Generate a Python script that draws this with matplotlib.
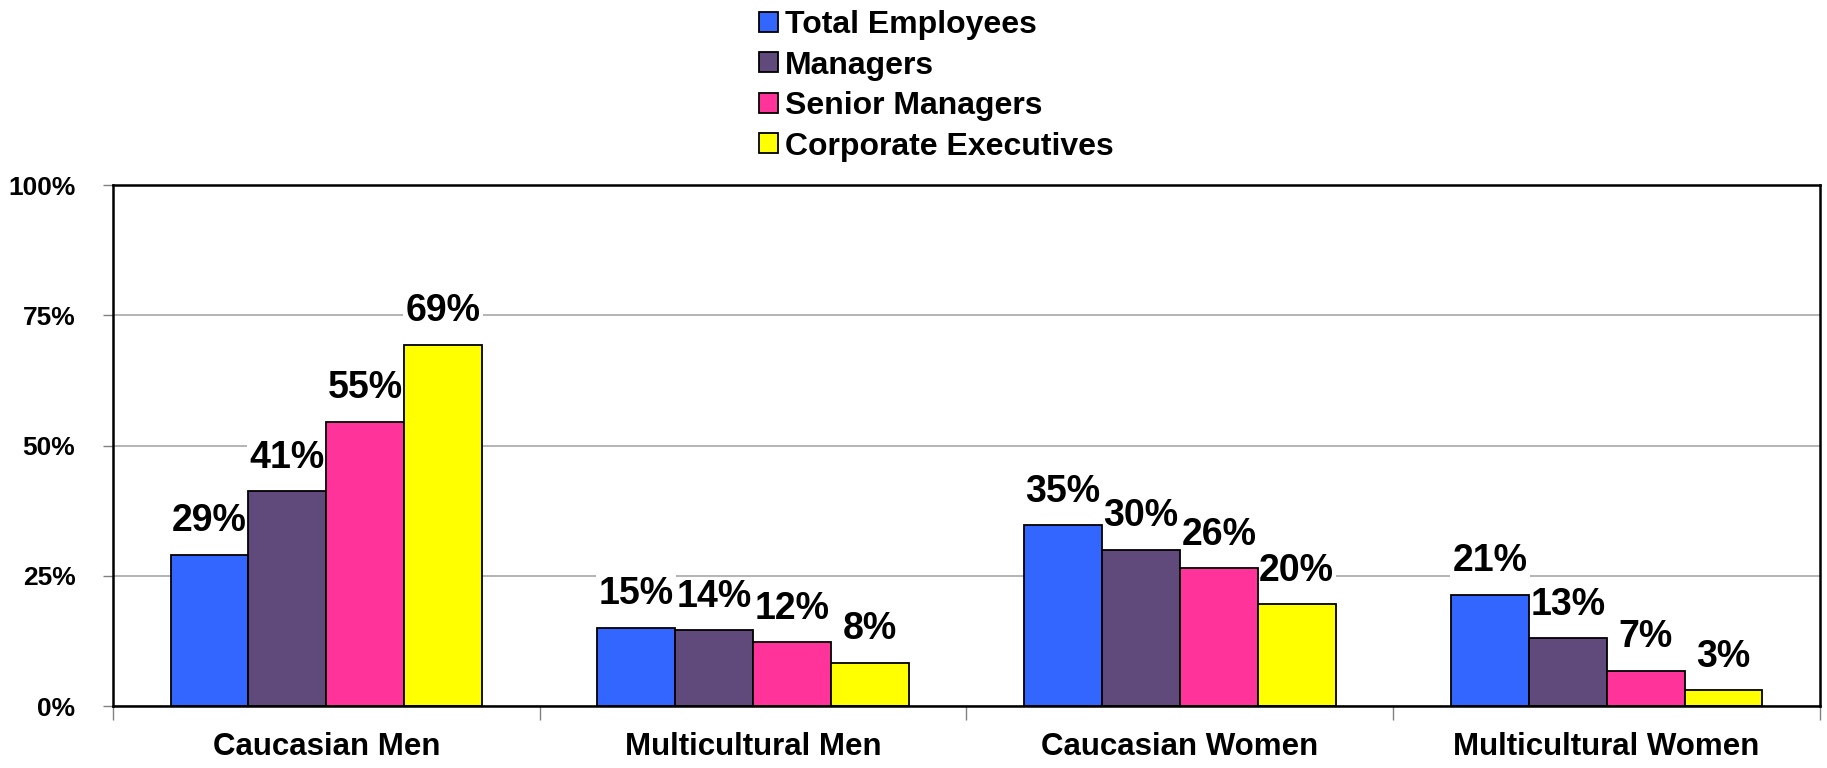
import numpy as np
import matplotlib
matplotlib.use("Agg")
import matplotlib.pyplot as plt
from matplotlib.ticker import FixedLocator

plt.rcParams['font.family'] = ['Liberation Sans', 'DejaVu Sans']
plt.rcParams['font.weight'] = 'bold'

# data (percent)
categories = ["Caucasian Men", "Multicultural Men", "Caucasian Women", "Multicultural Women"]
series_names = ["Total Employees", "Managers", "Senior Managers", "Corporate Executives"]
total_employees = [29.0, 15.0, 34.7, 21.4]
managers = [41.2, 14.5, 30.0, 13.0]
senior_managers = [54.6, 12.2, 26.4, 6.8]
corporate_execs = [69.3, 8.3, 19.5, 3.0]
yticks = [0, 25, 50, 75, 100]

colors = ["#3366FF", "#604A7B", "#FF3399", "#FFFF00"]

fig = plt.figure(figsize=(18.27, 7.68), dpi=100)
ax = fig.add_axes([0.0618, 0.0807, 0.9962 - 0.0618, 0.759 - 0.0807])
ax.set_axisbelow(True)

x = np.arange(len(categories))
width = 0.1825
series = [total_employees, managers, senior_managers, corporate_execs]

for i, (vals, name, col) in enumerate(zip(series, series_names, colors)):
    pos = x + (i - 1.5) * width
    bars = ax.bar(pos, vals, width, color=col, edgecolor='black', linewidth=1.3,
                  label=name, zorder=3)
    # labels sit under the bars so their white boxes only hide gridlines
    for b, v in zip(bars, vals):
        ax.annotate("{:.0f}%".format(v), (b.get_x() + b.get_width() / 2, v),
                    xytext=(0, 17), textcoords='offset points',
                    ha='center', va='baseline', fontsize=27, fontweight='bold',
                    bbox=dict(facecolor='white', edgecolor='none', pad=1.5),
                    zorder=2)

ax.set_xlim(-0.5, len(categories) - 0.5)
ax.set_ylim(0, 100)

ax.set_yticks(yticks)
ax.set_yticklabels(["{}%".format(t) for t in yticks], fontsize=19, fontweight='bold')
ax.yaxis.grid(True, color='#a0a0a0', linewidth=1.1)
ax.tick_params(axis='y', direction='out', length=7, width=1, color='#808080', pad=20)

ax.set_xticks(x)
ax.set_xticklabels(categories, fontsize=22.5, fontweight='bold')
ax.tick_params(axis='x', which='major', length=0, pad=19)
ax.xaxis.set_minor_locator(FixedLocator(np.arange(-0.5, len(categories), 1.0)))
ax.tick_params(axis='x', which='minor', direction='out', length=10, width=1, color='#808080')

for s in ax.spines.values():
    s.set_linewidth(1.8)
    s.set_color('black')
    s.set_zorder(5)

fig.legend(loc='upper left', bbox_to_anchor=(0.4155, 0.987), frameon=False,
           prop={'weight': 'bold', 'size': 23},
           handlelength=0.6, handleheight=0.6, handletextpad=0.2,
           labelspacing=0.33, borderpad=0, borderaxespad=0)

fig.savefig("out.png", dpi=100)
